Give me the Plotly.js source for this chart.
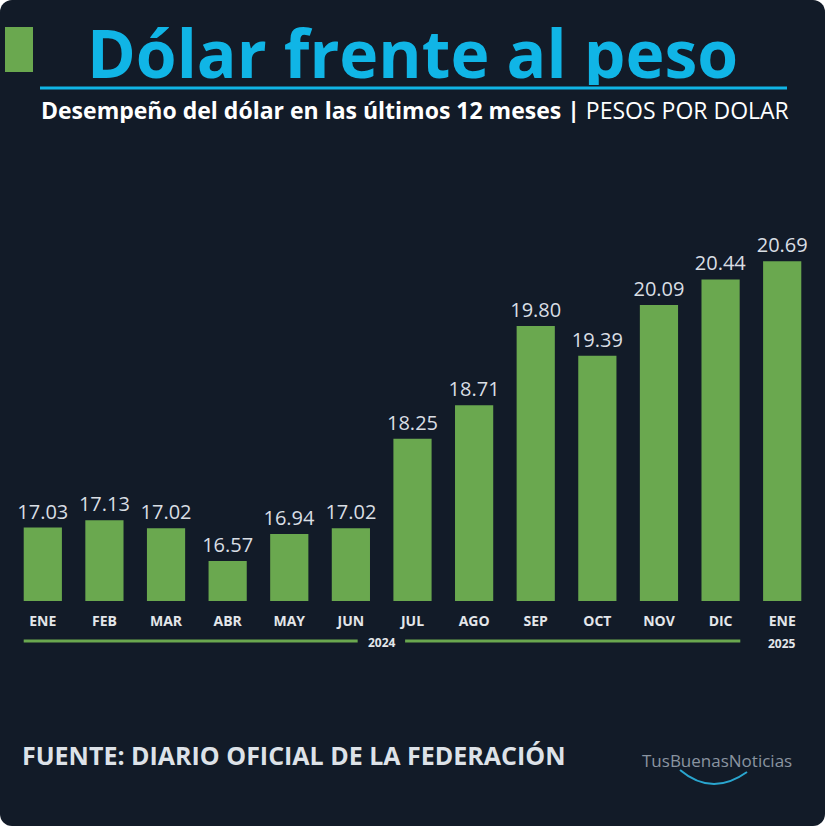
<!DOCTYPE html>
<html>
<head>
<meta charset="utf-8">
<script src="https://cdn.plot.ly/plotly-3.0.1.min.js"></script>
<style>
  html, body { margin: 0; padding: 0; background: #ffffff; }
  #wrap { width: 825px; height: 826px; border-radius: 12px; overflow: hidden; }
  #chart { width: 825px; height: 826px; }
</style>
</head>
<body>
<div id="wrap"><div id="chart"></div></div>
<script>
// ---- data ----
const months = ["ENE", "FEB", "MAR", "ABR", "MAY", "JUN", "JUL", "AGO", "SEP", "OCT", "NOV", "DIC", "ENE"];
const pesosPorDolar = [17.03, 17.13, 17.02, 16.57, 16.94, 17.02, 18.25, 18.71, 19.80, 19.39, 20.09, 20.44, 20.69];
const years = ["2024", "2025"];
const titleText = "Dólar frente al peso";
const subtitleBold = "Desempeño del dólar en las últimos 12 meses |";
const subtitleLight = "PESOS POR DOLAR";
const sourceText = "FUENTE: DIARIO OFICIAL DE LA FEDERACIÓN";
const logoText = "TusBuenasNoticias";

// ---- layout helpers ----
const W = 825, H = 826;
const M = {l: 12, r: 12, t: 230, b: 225};
const PW = W - M.l - M.r, PH = H - M.t - M.b;
const px = X => (X - M.l) / PW;        // pixel x -> paper x
const py = Y => (H - M.b - Y) / PH;    // pixel y -> paper y

const idx = months.map((_, i) => i);
const bg = "#121b28";
const green = "#6aa84f";
const cyan = "#10b5e6";

const trace = {
  type: "bar",
  x: idx,
  y: pesosPorDolar,
  marker: {color: green, line: {width: 0}},
  texttemplate: "%{y:.2f}",
  textposition: "outside",
  constraintext: "none",
  textfont: {family: "Open Sans", size: 20, color: "#d9dee4"},
  cliponaxis: false,
  hoverinfo: "skip"
};

const shapes = [
  // green block left of title
  {type: "rect", xref: "paper", yref: "paper", x0: px(5), x1: px(33), y0: py(72), y1: py(27), fillcolor: green, line: {width: 0}, layer: "above"},
  // cyan rule under title
  {type: "line", xref: "paper", yref: "paper", x0: px(40), x1: px(787), y0: py(88), y1: py(88), line: {color: cyan, width: 3}},
  // 2024 year bracket lines (data x units)
  {type: "line", xref: "x", yref: "paper", x0: -0.31, x1: 5.11, y0: py(641), y1: py(641), line: {color: green, width: 3}},
  {type: "line", xref: "x", yref: "paper", x0: 5.88, x1: 11.32, y0: py(641), y1: py(641), line: {color: green, width: 3}},
  // logo arc
  {type: "path", xref: "paper", yref: "paper",
   path: `M ${px(680)} ${py(770)} Q ${px(712)} ${py(797)} ${px(747)} ${py(772)}`,
   line: {color: "#2aa6cf", width: 2}}
];

const annotations = [
  {text: titleText, xref: "paper", yref: "paper", x: px(412), y: py(52), xanchor: "center", yanchor: "middle",
   height: 66, showarrow: false, font: {family: "Open Sans", size: 66, color: cyan, weight: 700}},
  {text: "<b>" + subtitleBold + "</b> " + subtitleLight, xref: "paper", yref: "paper", x: px(39), y: py(110),
   xanchor: "left", yanchor: "middle", height: 26, showarrow: false, font: {family: "Open Sans", size: 23, color: "#ffffff"}},
  {text: years[0], xref: "x", yref: "paper", x: 5.5, y: py(642), xanchor: "center", yanchor: "middle",
   showarrow: false, font: {family: "Open Sans", size: 12, color: "#e3e6ea", weight: 700}},
  {text: years[1], xref: "x", yref: "paper", x: 12, y: py(643), xanchor: "center", yanchor: "middle",
   showarrow: false, font: {family: "Open Sans", size: 12, color: "#e3e6ea", weight: 700}},
  {text: sourceText, xref: "paper", yref: "paper", x: px(20), y: py(755), xanchor: "left", yanchor: "middle",
   showarrow: false, font: {family: "Open Sans", size: 25, color: "#dde2e8", weight: 700}},
  {text: logoText, xref: "paper", yref: "paper", x: px(717), y: py(760), xanchor: "center", yanchor: "middle",
   showarrow: false, font: {family: "Open Sans", size: 17, color: "#8a94a0"}}
];

const layout = {
  width: W, height: H,
  margin: M,
  paper_bgcolor: bg, plot_bgcolor: bg,
  showlegend: false,
  bargap: 0.38,
  uniformtext: {mode: false},
  xaxis: {
    tickmode: "array", tickvals: idx, ticktext: months,
    range: [-0.5, months.length - 0.5],
    showgrid: false, zeroline: false, showline: false, ticks: "",
    tickfont: {family: "Open Sans", size: 14, color: "#e3e6ea", weight: 700},
    ticklabelstandoff: 10
  },
  yaxis: {
    range: [16.02, 21.12],
    visible: false, showgrid: false, zeroline: false
  },
  shapes: shapes,
  annotations: annotations
};

Plotly.newPlot("chart", [trace], layout, {displayModeBar: false, staticPlot: true});
</script>
</body>
</html>
